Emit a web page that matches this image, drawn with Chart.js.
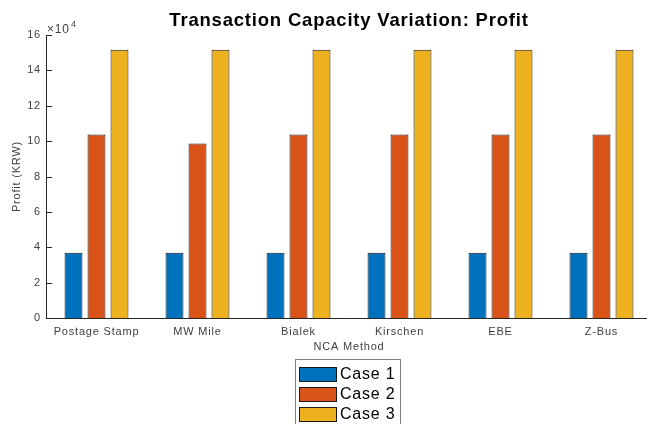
<!DOCTYPE html>
<html>
<head>
<meta charset="utf-8">
<script src="https://cdn.jsdelivr.net/npm/chart.js@4"></script>
<style>
  html, body { margin: 0; padding: 0; overflow: hidden; background: #fff; }
  #wrap { width: 660px; height: 424px; }
</style>
</head>
<body>
<div id="wrap"><canvas id="profitChart" width="660" height="424"></canvas></div>
<script>
const methods = ["Postage Stamp", "MW Mile", "Bialek", "Kirschen", "EBE", "Z-Bus"];
const caseLabels = ["Case 1", "Case 2", "Case 3"];
const case1 = [36900, 36900, 36900, 36900, 36900, 36900];
const case2 = [103800, 98600, 103800, 103800, 103800, 103800];
const case3 = [151700, 151700, 151700, 151700, 151700, 151700];
const caseColors = ["#0072BD", "#D95319", "#EDB120"];

const FONT = "'Liberation Sans', Arial, Helvetica, sans-serif";
const AXIS_COLOR = "#262626";
const SPACING = "0.8px";

// MATLAB text is a bit wider than Arial, so widen the letters a touch
const wideText = {
  id: "wideText",
  beforeUpdate(chart) { chart.ctx.letterSpacing = SPACING; },
  beforeDraw(chart) { chart.ctx.letterSpacing = SPACING; }
};

// inward ticks, exponent label and a boxed vertical legend (MATLAB style)
const matlabExtras = {
  id: "matlabExtras",
  afterDraw(chart) {
    const ctx = chart.ctx;
    const area = chart.chartArea;
    const y = chart.scales.y;

    ctx.save();
    ctx.strokeStyle = AXIS_COLOR;
    ctx.lineWidth = 1;
    y.ticks.forEach(t => {
      const py = Math.round(y.getPixelForValue(t.value)) + 0.5;
      ctx.beginPath();
      ctx.moveTo(area.left, py);
      ctx.lineTo(area.left + 6, py);
      ctx.stroke();
    });

    // x10^4 multiplier
    ctx.fillStyle = "#404040";
    ctx.textBaseline = "alphabetic";
    ctx.textAlign = "left";
    ctx.font = "12px " + FONT;
    ctx.fillText("\u00d710", 47, 33);
    ctx.font = "9px " + FONT;
    ctx.fillText("4", 71, 27);

    // legend
    const box = { x: 295.5, y: 359.5, w: 105, h: 80 };
    ctx.strokeStyle = "#7f7f7f";
    ctx.fillStyle = "#fff";
    ctx.fillRect(box.x, box.y, box.w, box.h);
    ctx.strokeRect(box.x, box.y, box.w, box.h);
    ctx.font = "16px " + FONT;
    ctx.textBaseline = "middle";
    chart.data.datasets.forEach((ds, i) => {
      const sy = 367 + i * 20;
      ctx.fillStyle = ds.backgroundColor;
      ctx.fillRect(299, sy, 38, 15);
      ctx.strokeStyle = "#1a1a1a";
      ctx.strokeRect(299.5, sy + 0.5, 37, 14);
      ctx.fillStyle = "#000";
      ctx.fillText(ds.label, 340, sy + 8);
    });
    ctx.restore();
  }
};

const datasets = [case1, case2, case3].map((vals, i) => ({
  label: caseLabels[i],
  data: vals,
  backgroundColor: caseColors[i],
  borderColor: "#1a1a1a",
  borderWidth: 1,
  categoryPercentage: 0.683,
  barPercentage: 0.78
}));

new Chart(document.getElementById("profitChart"), {
  type: "bar",
  data: { labels: methods, datasets },
  plugins: [wideText, matlabExtras],
  options: {
    responsive: false,
    animation: false,
    layout: { padding: { left: 0, right: 8, top: 0, bottom: 69 } },
    plugins: {
      legend: { display: false },
      tooltip: { enabled: false },
      title: {
        display: true,
        fullSize: false,
        text: "Transaction Capacity Variation: Profit",
        color: "#000",
        font: { family: FONT, size: 18.5, weight: "bold" },
        padding: { top: 10, bottom: 2.8 }
      }
    },
    scales: {
      x: {
        grid: { display: false, drawTicks: false },
        border: { display: true, color: AXIS_COLOR, width: 1 },
        ticks: { color: "#404040", font: { family: FONT, size: 11 }, padding: 7, maxRotation: 0 },
        title: {
          display: true,
          text: "NCA Method",
          color: "#404040",
          font: { family: FONT, size: 11 },
          padding: { top: 0, bottom: 1 }
        },
        afterFit(scale) { scale.height = 37; }
      },
      y: {
        min: 0,
        max: 160000,
        grid: { display: false, drawTicks: false },
        border: { display: true, color: AXIS_COLOR, width: 1 },
        ticks: {
          stepSize: 20000,
          color: "#404040",
          font: { family: FONT, size: 11 },
          padding: 5,
          callback: v => v / 10000
        },
        title: {
          display: true,
          text: "Profit (KRW)",
          color: "#404040",
          font: { family: FONT, size: 11 },
          padding: { top: 10, bottom: 0 }
        },
        afterFit(scale) { scale.width = 46; }
      }
    }
  }
});
</script>
</body>
</html>
